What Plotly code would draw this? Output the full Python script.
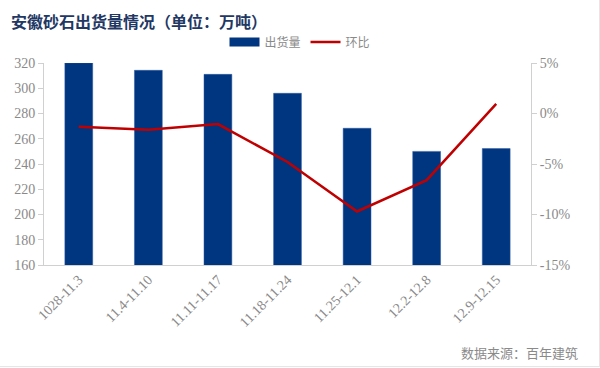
import plotly.graph_objects as go

categories = ["1028-11.3", "11.4-11.10", "11.11-11.17", "11.18-11.24", "11.25-12.1", "12.2-12.8", "12.9-12.15"]
shipments = [320, 314.2, 311, 296, 268.3, 250, 252.2]
mom_pct = [-1.3, -1.6, -1.05, -4.8, -9.7, -6.6, 0.95]
pct_tick_vals = [-15, -10, -5, 0, 5]
pct_tick_text = ["-15%", "-10%", "-5%", "0%", "5%"]

BAR_COLOR = "#003580"
LINE_COLOR = "#C00000"
tick_font = dict(family="Liberation Serif, Times New Roman, serif", size=14, color="#8a8a8a")

PW, PH, ML, MT = 487, 202, 44, 63

def px_x(x):
    return (x - ML) / PW

def px_y(y):
    return (MT + PH - y) / PH

fig = go.Figure()
fig.add_trace(go.Bar(x=categories, y=shipments, name="出货量", showlegend=False,
                     marker=dict(color=BAR_COLOR, line=dict(color="#2a5aa0", width=0.5))))
# legend entry with wide rectangular swatch for the bars
fig.add_trace(go.Scatter(x=[None], y=[None], name="出货量", mode="lines",
                         line=dict(color=BAR_COLOR, width=9)))
fig.add_trace(go.Scatter(x=categories, y=mom_pct, name="环比", yaxis="y2", mode="lines",
                         line=dict(color=LINE_COLOR, width=2.5)))

fig.update_layout(
    width=600, height=368,
    margin=dict(l=ML, r=600 - ML - PW, t=MT, b=368 - MT - PH),
    paper_bgcolor="white", plot_bgcolor="white",
    bargap=0.6,
    showlegend=True,
    legend=dict(orientation="h", x=0.5, xref="container", xanchor="center",
                y=1 - 42/368, yref="container", yanchor="middle",
                font=dict(family="Noto Sans CJK SC", size=12, color="#8a8a8a"),
                itemwidth=30, traceorder="normal", bgcolor="rgba(0,0,0,0)"),
    xaxis=dict(type="category", tickangle=-45, tickfont=tick_font, showline=True,
               linecolor="#d0d0d0", linewidth=1, ticks="", showgrid=False, automargin=False),
    yaxis=dict(range=[160, 320], dtick=20, tickfont=tick_font, showline=True,
               linecolor="#d0d0d0", ticks="outside", ticklen=5, tickcolor="#d0d0d0",
               showgrid=False, zeroline=False, automargin=False),
    yaxis2=dict(range=[-15, 5], tickvals=pct_tick_vals, ticktext=pct_tick_text,
                overlaying="y", side="right",
                tickfont=tick_font, showline=True, linecolor="#d0d0d0", ticks="outside",
                ticklen=5, tickcolor="#d0d0d0", showgrid=False, zeroline=False, automargin=False),
    annotations=[
        dict(text="<b>安徽砂石出货量情况（单位：万吨）</b>", xref="paper", yref="paper",
             x=px_x(9), y=px_y(7), xanchor="left", yanchor="top", showarrow=False,
             font=dict(family="Noto Sans CJK SC", size=16, color="#1F3864")),
        dict(text="数据来源：百年建筑", xref="paper", yref="paper",
             x=px_x(580), y=px_y(352), xanchor="right", yanchor="middle", showarrow=False,
             font=dict(family="Noto Sans CJK SC", size=13, color="#8a8a8a")),
    ],
    shapes=[
        dict(type="line", xref="paper", yref="paper", x0=px_x(0), x1=px_x(600),
             y0=px_y(366.5), y1=px_y(366.5), line=dict(color="#e6e6e6", width=1)),
        dict(type="line", xref="paper", yref="paper", x0=px_x(599.5), x1=px_x(599.5),
             y0=px_y(0), y1=px_y(367), line=dict(color="#e6e6e6", width=1)),
    ],
)

fig.write_html("out.html", config={"displayModeBar": False},
               post_script="document.body.style.margin='0';")
